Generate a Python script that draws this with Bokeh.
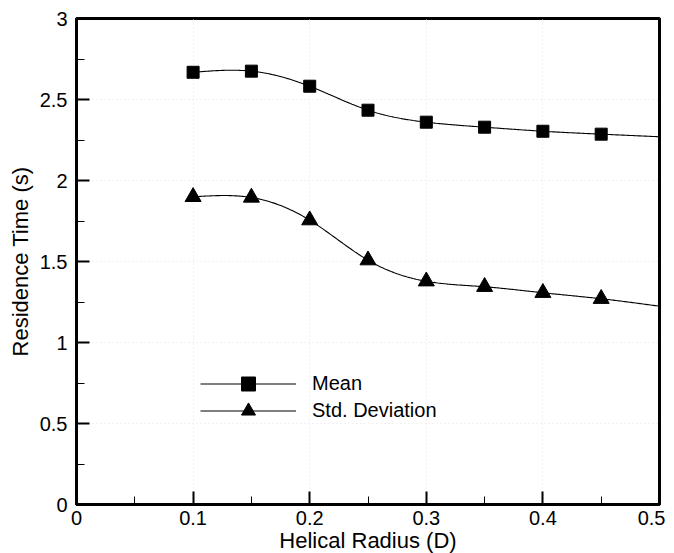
import numpy as np
from bokeh.plotting import figure
from bokeh.models import FixedTicker, Legend, LegendItem
from bokeh.embed import file_html
from bokeh.resources import INLINE

# ---- data ----
radius = [0.10, 0.15, 0.20, 0.25, 0.30, 0.35, 0.40, 0.45, 0.50]
mean_time = [2.668, 2.675, 2.582, 2.434, 2.360, 2.329, 2.304, 2.286, 2.270]
std_time = [1.899, 1.895, 1.755, 1.508, 1.378, 1.344, 1.307, 1.270, 1.224]
n_markers = 8  # symbols drawn at the first 8 points

x_ticks = [0, 0.1, 0.2, 0.3, 0.4, 0.5]
x_labels = ["0", "0.1", "0.2", "0.3", "0.4", "0.5"]
y_ticks = [0, 0.5, 1, 1.5, 2, 2.5, 3]
y_labels = ["0", "0.5", "1", "1.5", "2", "2.5", "3"]


def natural_spline(xs, ys, n=40):
    xs = np.asarray(xs, float)
    ys = np.asarray(ys, float)
    m = len(xs)
    h = np.diff(xs)
    A = np.zeros((m, m))
    b = np.zeros(m)
    A[0, 0] = 1
    A[-1, -1] = 1
    for i in range(1, m - 1):
        A[i, i - 1] = h[i - 1]
        A[i, i] = 2 * (h[i - 1] + h[i])
        A[i, i + 1] = h[i]
        b[i] = 3 * ((ys[i + 1] - ys[i]) / h[i] - (ys[i] - ys[i - 1]) / h[i - 1])
    c = np.linalg.solve(A, b)
    out_x, out_y = [], []
    for i in range(m - 1):
        bi = (ys[i + 1] - ys[i]) / h[i] - h[i] * (2 * c[i] + c[i + 1]) / 3
        di = (c[i + 1] - c[i]) / (3 * h[i])
        t = np.linspace(0, h[i], n, endpoint=(i == m - 2))
        out_x.extend(xs[i] + t)
        out_y.extend(ys[i] + bi * t + c[i] * t ** 2 + di * t ** 3)
    return out_x, out_y


FONT = "Liberation Sans"

p = figure(frame_width=583, frame_height=486,
           x_range=(0, 0.5), y_range=(0, 3),
           output_backend="svg", toolbar_location=None,
           min_border_left=76, min_border_right=6, min_border_top=18, min_border_bottom=10)

p.outline_line_color = "black"
p.outline_line_width = 3
p.outline_line_alpha = 1

for ax, ticks, labels in ((p.xaxis[0], x_ticks, x_labels), (p.yaxis[0], y_ticks, y_labels)):
    ax.ticker = FixedTicker(ticks=ticks,
                            minor_ticks=[(ticks[i] + ticks[i + 1]) / 2 for i in range(len(ticks) - 1)])
    ax.major_label_overrides = {t: l for t, l in zip(ticks, labels)}
    ax.axis_line_width = 3
    ax.axis_line_color = "black"
    ax.major_tick_in = 13
    ax.major_tick_out = 0
    ax.major_tick_line_width = 2
    ax.minor_tick_in = 8
    ax.minor_tick_out = 0
    ax.minor_tick_line_width = 1
    ax.major_label_text_font = FONT
    ax.major_label_text_font_size = "20px"
    ax.major_label_text_color = "black"
    ax.axis_label_text_font = FONT
    ax.axis_label_text_font_size = "22px"
    ax.axis_label_text_font_style = "normal"
    ax.axis_label_text_color = "black"

p.xaxis.axis_label = "Helical Radius (D)"
p.yaxis.axis_label = "Residence Time (s)"
p.xaxis.major_label_standoff = 6
p.yaxis.major_label_standoff = 9
p.xaxis.axis_label_standoff = 0
p.yaxis.axis_label_standoff = 4

p.grid.grid_line_color = "#e4e4e4"
p.grid.grid_line_dash = "1 3"
p.grid.grid_line_width = 1

mx, my = natural_spline(radius, mean_time)
sx, sy = natural_spline(radius, std_time)

l1 = p.line(mx, my, line_color="black", line_width=1.1)
l2 = p.line(sx, sy, line_color="black", line_width=1.1)
m1 = p.scatter(radius[:n_markers], mean_time[:n_markers], marker="square", size=12,
               fill_color="black", line_color="black")
m2 = p.scatter(radius[:n_markers], std_time[:n_markers], marker="triangle", size=16,
               fill_color="black", line_color="black")

legend_style = dict(glyph_width=96, glyph_height=35, label_height=20,
                    label_standoff=16, padding=0, margin=0, spacing=0,
                    border_line_color=None, background_fill_alpha=0,
                    label_text_font=FONT, label_text_font_size="20px",
                    label_text_color="black")
leg_mean = Legend(items=[LegendItem(label="Mean", renderers=[l1, m1])],
                  location=(124, 103), **legend_style)
leg_std = Legend(items=[LegendItem(label="Std. Deviation", renderers=[l2, m2])],
                 location=(124, 76), **legend_style)
p.add_layout(leg_mean)
p.add_layout(leg_std)

open("out.html", "w").write(file_html(p, INLINE))
